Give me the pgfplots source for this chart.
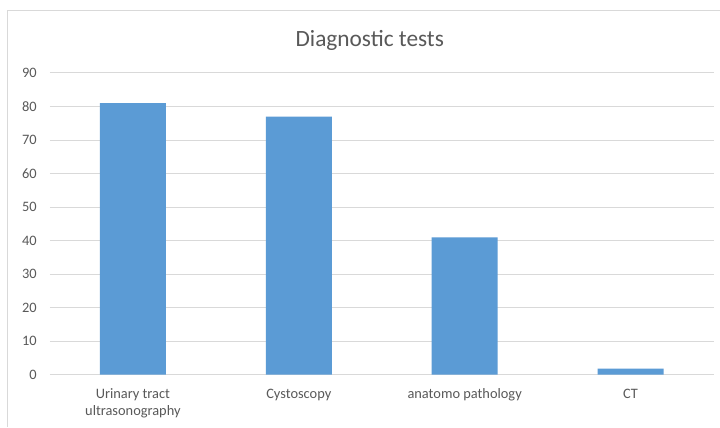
\documentclass[border=0pt]{standalone}
\usepackage{pgfplots}
\pgfplotsset{compat=1.18}
\usepackage{fontspec}
\setmainfont{Carlito}
\definecolor{barblue}{HTML}{5B9BD5}
\definecolor{gridgray}{HTML}{D9D9D9}
\definecolor{txtgray}{HTML}{595959}
\begin{document}
\begin{tikzpicture}
\path[fill=white] (0,0) rectangle (540pt,320.25pt);
\draw[gridgray, line width=0.75pt] (5.4pt,0) -- (5.4pt,312.2pt) -- (540pt,312.2pt);
\node[txtgray, font=\fontsize{17.5}{21}\selectfont] at (277.5pt,290pt) {Diagnostic tests};
\begin{axis}[
  at={(37.5pt,39pt)}, anchor=south west,
  scale only axis, width=498pt, height=226.5pt,
  xmin=-0.5, xmax=3.5, ymin=0, ymax=90,
  ytick={0,10,...,90},
  xtick={0,1,2,3},
  xticklabels={{Urinary tract\\[1pt]ultrasonography},{Cystoscopy},{anatomo pathology},{CT}},
  xticklabel style={align=center, text=txtgray, font=\fontsize{10.8}{12}\selectfont, yshift=-7pt},
  yticklabel style={text=txtgray, font=\fontsize{10.8}{12}\selectfont, xshift=-6.5pt},
  /pgf/number format/assume math mode=true,
  major tick length=0pt,
  axis line style={draw=none},
  ymajorgrids, grid style={gridgray, line width=0.75pt},
  clip=false,
]
\addplot[ybar, bar width=49.5pt, fill=barblue, draw=none] coordinates {(0,81) (1,77) (2,41) (3,1.8)};
\end{axis}
\end{tikzpicture}
\end{document}
